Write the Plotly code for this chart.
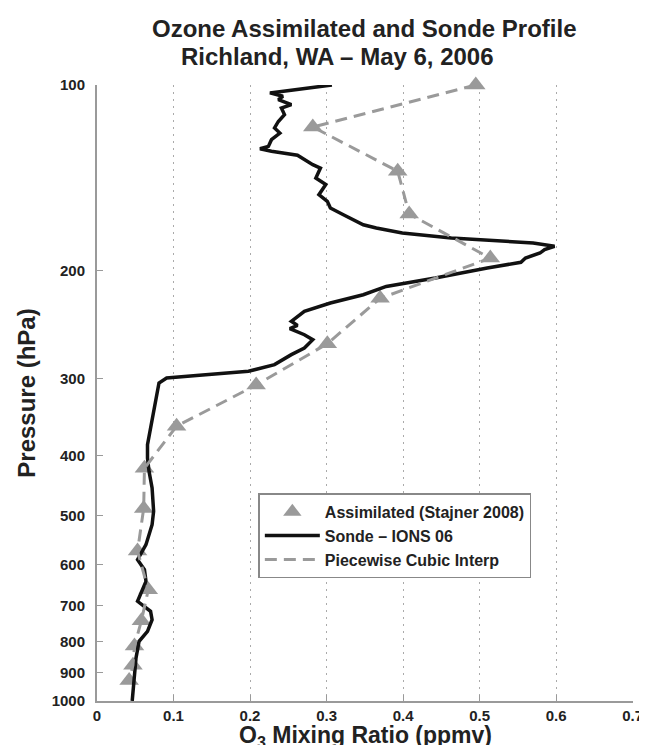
import plotly.graph_objects as go

# Assimilated ozone profile (Stajner 2008): mixing ratio (ppmv) vs pressure (hPa)
assim_o3 = [0.495, 0.282, 0.393, 0.408, 0.514, 0.370, 0.301, 0.208, 0.104,
            0.062, 0.061, 0.053, 0.067, 0.058, 0.049, 0.047, 0.042]
assim_p = [100, 117, 138, 162, 191, 222, 263, 307, 358,
           419, 487, 571, 660, 741, 814, 875, 926]

# Ozonesonde profile, IONS 06
sonde_o3 = [0.307, 0.226, 0.243, 0.237, 0.254, 0.241, 0.245, 0.237, 0.232,
            0.239, 0.228, 0.224, 0.213, 0.228, 0.262, 0.282, 0.292, 0.286,
            0.299, 0.290, 0.301, 0.305, 0.322, 0.348, 0.365, 0.399, 0.463,
            0.527, 0.570, 0.598, 0.585, 0.579, 0.560, 0.554, 0.527, 0.510,
            0.442, 0.378, 0.348, 0.305, 0.271, 0.254, 0.262, 0.252, 0.271,
            0.282, 0.271, 0.254, 0.232, 0.198, 0.134, 0.091, 0.081, 0.079,
            0.074, 0.070, 0.066, 0.066, 0.068, 0.072, 0.074, 0.072, 0.064,
            0.053, 0.062, 0.064, 0.053, 0.070, 0.072, 0.066, 0.055, 0.051,
            0.049, 0.046]
sonde_p = [100, 103.0, 104.3, 105.6, 107.6, 109.0, 111.7, 114.6, 117.4,
           119.7, 122.7, 125.8, 126.9, 128.1, 130.0, 134.7, 136.4, 141.6,
           145.1, 150.7, 154.5, 158.4, 162.4, 168.6, 170.7, 173.9, 177.2,
           179.4, 180.5, 182.7, 185.0, 187.4, 190.9, 194.0, 196.5, 198.2,
           205.8, 212.3, 219, 225.9, 233, 241.9, 245.6, 248.5, 254.3,
           259.1, 267.3, 274, 284.4, 291.6, 296, 299, 304.6, 314.1,
           334.5, 356, 383.7, 403.3, 423.8, 451, 492, 517.4, 557.4,
           589.6, 612, 639.3, 688.8, 715, 738, 770.6, 800, 851.4,
           917.9, 1000]

p_ticks = [100, 200, 300, 400, 500, 600, 700, 800, 900, 1000]

FONT = "Liberation Sans, Arial, Helvetica, sans-serif"
GRAY = "#9a9a9a"
TXT = "#222222"

fig = go.Figure()

fig.add_trace(go.Scatter(
    x=assim_o3, y=assim_p, mode="markers", cliponaxis=False,
    marker=dict(symbol="triangle-up", size=17, color=GRAY),
    name="Assimilated (Stajner 2008)"))

fig.add_trace(go.Scatter(
    x=sonde_o3, y=sonde_p, mode="lines",
    line=dict(color="#111111", width=3.5),
    name="Sonde \u2013 IONS 06"))

fig.add_trace(go.Scatter(
    x=assim_o3, y=assim_p, mode="lines",
    line=dict(color=GRAY, width=3, dash="12px,7px"),
    name="Piecewise Cubic Interp"))

# title lines and x label as annotations: (text, centre x px, centre y px, size)
labels = [
    ("Ozone Assimilated and Sonde Profile", 361, 20, 24),
    ("Richland, WA \u2013 May 6, 2006", 334, 48, 24),
    ("O<sub>3</sub> Mixing Ratio (ppmv)", 362, 728, 23),
]
for text, px_x, px_y, size in labels:
    fig.add_annotation(
        text=text, showarrow=False, xref="paper", yref="paper",
        x=(px_x - 89) / 545.3, y=(693 - px_y) / 616,
        xanchor="center", yanchor="middle",
        font=dict(family=FONT, size=size, color=TXT, weight="bold"))

fig.update_layout(
    width=647, height=745,
    margin=dict(l=89, r=13, t=77, b=52),
    plot_bgcolor="white", paper_bgcolor="white",
    font=dict(family=FONT, color=TXT),
    showlegend=True,
    legend=dict(x=0.301, y=0.337, xanchor="left", yanchor="top",
                bgcolor="white", bordercolor="#888", borderwidth=1.5,
                font=dict(family=FONT, size=16, color=TXT, weight="bold"),
                tracegroupgap=0, itemwidth=55),
    xaxis=dict(range=[0, 0.7005], tick0=0, dtick=0.1,
               ticks="inside", ticklen=6, tickcolor=GRAY,
               showline=True, linecolor=GRAY, linewidth=2,
               showgrid=True, gridcolor="#aaaaaa", griddash="2px,5px",
               gridwidth=1, zeroline=False, ticklabelstandoff=0,
               tickfont=dict(size=15, weight="bold")),
    yaxis=dict(type="log", range=[3, 2],
               tickvals=p_ticks, ticktext=[str(p) for p in p_ticks],
               ticks="inside", ticklen=6, tickcolor=GRAY,
               showline=True, linecolor=GRAY, linewidth=2,
               showgrid=False, zeroline=False, ticklabelstandoff=7,
               tickfont=dict(size=15, weight="bold"),
               title=dict(text="Pressure (hPa)",
                          font=dict(size=24, weight="bold"), standoff=9)),
)

fig.write_html("out.html")
